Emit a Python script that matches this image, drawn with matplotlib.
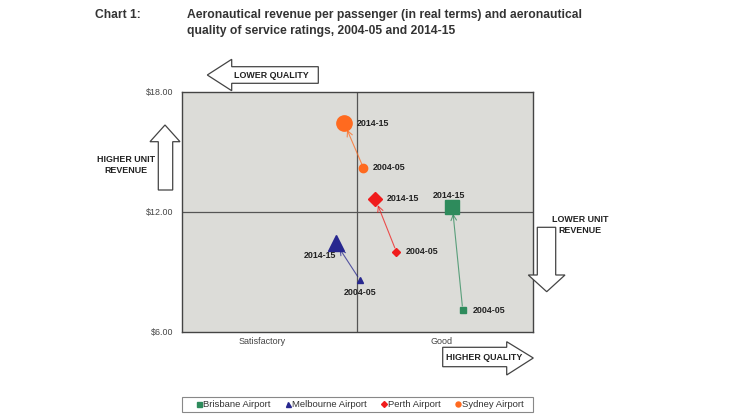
import matplotlib
matplotlib.use("Agg")
import matplotlib.pyplot as plt
from matplotlib.patches import Polygon, Rectangle
from matplotlib.lines import Line2D

plt.rcParams['font.family'] = ['Liberation Sans', 'DejaVu Sans']

# ---- data ----
airports = ["Brisbane Airport", "Melbourne Airport", "Perth Airport", "Sydney Airport"]
quality_0405 = [4.10, 3.515, 3.722, 3.534]
quality_1415 = [4.041, 3.377, 3.602, 3.426]
revenue_0405 = [7.08, 8.58, 10.0, 14.2]
revenue_1415 = [12.25, 10.45, 12.65, 16.42]
colors = ["#2e8b5c", "#27278f", "#f01c1c", "#ff6a1f"]
markers = ["s", "^", "D", "o"]
period_labels = ["2004-05", "2014-15"]
x_tick_pos = [2.955, 3.98]
x_tick_labels = ["Satisfactory", "Good"]
y_ticks = [6, 12, 18]
y_tick_labels = ["$6.00", "$12.00", "$18.00"]

W, H = 750, 420
fig = plt.figure(figsize=(7.5, 4.2), dpi=100)
fig.patch.set_facecolor("white")

def fx(px):
    return px / W

def fy(py):
    return 1 - py / H

ax = fig.add_axes([fx(181.7), fy(331.7), (533 - 181.7) / W, (331.7 - 91.7) / H])
ax.set_facecolor("#dcdcd8")
ax.set_xlim(2.5, 4.5)
ax.set_ylim(6, 18)
for s in ax.spines.values():
    s.set_color("#444444")
    s.set_linewidth(1.0)
ax.axhline(12, color="#555555", lw=0.9, zorder=1)
ax.axvline(3.5, color="#555555", lw=0.9, zorder=1)
ax.set_xticks(x_tick_pos)
ax.set_xticklabels(x_tick_labels, fontsize=6.5, color="#444444")
ax.set_yticks(y_ticks)
ax.set_yticklabels(y_tick_labels, fontsize=6.4, color="#444444")
ax.tick_params(axis="x", length=0, pad=4)
ax.tick_params(axis="y", length=0, pad=6)

small_ms = [5, 5, 5, 6]
big_ms = [10, 11, 9, 11]
for i in range(4):
    x0, y0 = quality_0405[i], revenue_0405[i]
    x1, y1 = quality_1415[i], revenue_1415[i]
    ax.annotate("", xy=(x1, y1), xytext=(x0, y0),
                arrowprops=dict(arrowstyle="->", color=colors[i], lw=0.8,
                                shrinkA=3, shrinkB=5, alpha=0.75), zorder=2)
    ax.plot([x0], [y0], marker=markers[i], color=colors[i], ms=small_ms[i] * (0.8 if markers[i] == "D" else 1), ls="none", zorder=3)
    ax.plot([x1], [y1], marker=markers[i], color=colors[i], ms=big_ms[i] * (0.8 if markers[i] == "D" else 1), ls="none", zorder=3)

lab_kw = dict(fontsize=6.4, fontweight="bold", color="#222222", textcoords="offset points", va="center")
k = 0.72
# Brisbane
ax.annotate(period_labels[1], (quality_1415[0], revenue_1415[0]), xytext=(-3 * k, 11 * k), ha="center", **lab_kw)
ax.annotate(period_labels[0], (quality_0405[0], revenue_0405[0]), xytext=(9.6 * k, 0), ha="left", **lab_kw)
# Melbourne
ax.annotate(period_labels[1], (quality_1415[1], revenue_1415[1]), xytext=(0, -12.5 * k), ha="right", **lab_kw)
ax.annotate(period_labels[0], (quality_0405[1], revenue_0405[1]), xytext=(0, -12 * k), ha="center", **lab_kw)
# Perth
ax.annotate(period_labels[1], (quality_1415[2], revenue_1415[2]), xytext=(11.4 * k, 0), ha="left", **lab_kw)
ax.annotate(period_labels[0], (quality_0405[2], revenue_0405[2]), xytext=(9.4 * k, 0), ha="left", **lab_kw)
# Sydney
ax.annotate(period_labels[1], (quality_1415[3], revenue_1415[3]), xytext=(12.4 * k, 0), ha="left", **lab_kw)
ax.annotate(period_labels[0], (quality_0405[3], revenue_0405[3]), xytext=(9 * k, 0), ha="left", **lab_kw)

# ---- title ----
tkw = dict(fontsize=8.7, fontweight="bold", color="#333333", va="center", ha="left")
fig.text(fx(95), fy(15), "Chart 1:", **tkw)
fig.text(fx(187), fy(15), "Aeronautical revenue per passenger (in real terms) and aeronautical", **tkw)
fig.text(fx(187), fy(31), "quality of service ratings, 2004-05 and 2014-15", **tkw)

# ---- block arrows ----
def block_arrow(pts):
    poly = Polygon([(fx(x), fy(y)) for x, y in pts], closed=True, transform=fig.transFigure,
                   facecolor="white", edgecolor="#444444", lw=0.9, zorder=5)
    fig.add_artist(poly)

akw = dict(fontsize=6.4, fontweight="bold", color="#222222", ha="center", va="center", zorder=6)
# lower quality (left)
block_arrow([(207.3, 75), (231.7, 59.3), (231.7, 66.7), (318.3, 66.7), (318.3, 83.3), (231.7, 83.3), (231.7, 90.7)])
fig.text(fx(271), fy(75.5), "LOWER QUALITY", **akw)
# higher unit revenue (up)
block_arrow([(165, 125), (180, 141.7), (172.7, 141.7), (172.7, 190), (158.3, 190), (158.3, 141.7), (150, 141.7)])
fig.text(fx(126), fy(165), "HIGHER UNIT\nREVENUE", linespacing=1.15, **akw)
# lower unit revenue (down)
block_arrow([(546.7, 291.7), (565, 275), (555.7, 275), (555.7, 227.3), (537.3, 227.3), (537.3, 275), (528.3, 275)])
fig.text(fx(580), fy(225), "LOWER UNIT\nREVENUE", linespacing=1.15, **akw)
# higher quality (right)
block_arrow([(533.3, 358), (506.7, 341.7), (506.7, 347.3), (442.7, 347.3), (442.7, 366.7), (506.7, 366.7), (506.7, 375)])
fig.text(fx(484), fy(357.5), "HIGHER QUALITY", **akw)

# ---- legend ----
fig.add_artist(Rectangle((fx(182.3), fy(412)), (532.7 - 182.3) / W, 15 / H, transform=fig.transFigure,
                         facecolor="white", edgecolor="#888888", lw=0.8))
handles = [Line2D([], [], marker=markers[i], color=colors[i], ls="none",
                  ms=(3.0 if markers[i] == "D" else 3.6)) for i in range(4)]
fig.legend(handles, airports, loc="center", bbox_to_anchor=(fx(360), fy(404.5)), ncol=4,
           frameon=False, fontsize=6.8, handlelength=0.5, handletextpad=0.15, columnspacing=1.6,
           labelcolor="#333333")

fig.savefig("out.png", dpi=100, facecolor="white")
